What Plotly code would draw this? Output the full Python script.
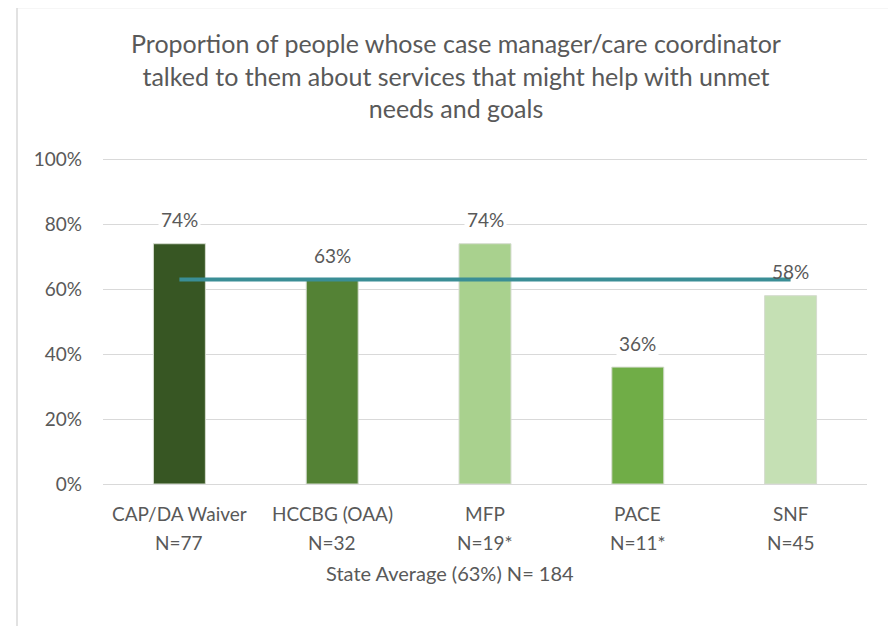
import plotly.graph_objects as go

categories = ["CAP/DA Waiver", "HCCBG (OAA)", "MFP", "PACE", "SNF"]
n_labels = ["N=77", "N=32", "N=19*", "N=11*", "N=45"]
values = [0.74, 0.63, 0.74, 0.36, 0.58]
value_labels = ["74%", "63%", "74%", "36%", "58%"]
state_average = 0.63
axis_title = "State Average (63%) N= 184"
title_text = ("Proportion of people whose case manager/care coordinator<br>"
              "talked to them about services that might help with unmet<br>"
              "needs and goals")
y_ticks = [0, 0.2, 0.4, 0.6, 0.8, 1.0]
y_ticktext = ["0%", "20%", "40%", "60%", "80%", "100%"]

bar_colors = ["#375623", "#548235", "#A9D18E", "#70AD47", "#C5E0B4"]
TEXT = "#595959"
FONT = "Lato"

# page offset (body margin) compensation
OFF = 8
W, H = 896 - OFF, 626 - OFF
Y_TOP = 1.004
L = 103 - OFF
pw = 764
ph0 = 325                       # pixels for 0..1
ph = ph0 * Y_TOP
T = 159 - OFF - (ph - ph0)
R = W - L - pw
B = H - T - ph

fig = go.Figure()
fig.add_trace(go.Bar(
    x=categories, y=values, width=0.34,
    marker=dict(color=bar_colors, line=dict(color="#D5DCCF", width=1)),
    hoverinfo="skip", showlegend=False,
))
fig.add_trace(go.Scatter(
    x=[categories[0], categories[-1]], y=[state_average, state_average],
    mode="lines", line=dict(color="#3A8E96", width=4),
    hoverinfo="skip", showlegend=False,
))

annotations = []
for c, v, lab in zip(categories, values, value_labels):
    overlaps_line = abs(v + 0.075 - state_average) < 0.04
    annotations.append(dict(
        x=c, y=v, xref="x", yref="y", text=lab, showarrow=False,
        yanchor="middle", yshift=24,
        font=dict(family=FONT, size=19, color=TEXT),
        bgcolor="rgba(0,0,0,0)" if overlaps_line else "white", borderpad=2,
    ))
for c, n in zip(categories, n_labels):
    annotations.append(dict(x=c, y=0, xref="x", yref="paper", text=c,
                            showarrow=False, yanchor="middle", yshift=-29,
                            font=dict(family=FONT, size=19, color=TEXT)))
    annotations.append(dict(x=c, y=0, xref="x", yref="paper", text=n,
                            showarrow=False, yanchor="middle", yshift=-58,
                            font=dict(family=FONT, size=19, color=TEXT)))
annotations.append(dict(x=(450 - 103) / pw, y=0, xref="paper", yref="paper",
                        text=axis_title, showarrow=False, yanchor="middle",
                        yshift=-89, font=dict(family=FONT, size=20, color=TEXT)))

fig.update_layout(
    width=W, height=H,
    margin=dict(l=L, r=R, t=T, b=B),
    paper_bgcolor="white", plot_bgcolor="white",
    title=dict(text=title_text, x=(456 - 103) / pw, xanchor="center",
               xref="paper", y=1 - (53 - OFF) / H, yanchor="middle",
               font=dict(family=FONT, size=25, color=TEXT)),
    bargap=0.66,
    xaxis=dict(showticklabels=False, showgrid=False, showline=True,
               linecolor="#D9D9D9", linewidth=1, ticks="", zeroline=False,
               fixedrange=True),
    yaxis=dict(range=[0, Y_TOP], tickvals=y_ticks, ticktext=y_ticktext,
               showgrid=True, gridcolor="#D9D9D9", gridwidth=1,
               zeroline=False, showline=False, ticks="",
               ticklabelstandoff=20,
               tickfont=dict(family=FONT, size=19, color=TEXT),
               fixedrange=True),
    annotations=annotations,
    shapes=[dict(type="rect", xref="paper", yref="paper",
                 x0=(17 - 103) / pw, x1=(892 - 103) / pw,
                 y0=(484 - 680) / ph, y1=(484 - 7) / ph,
                 line=dict(color="#D9D9D9", width=1.5), layer="below")],
)

fig.write_html("out.html")
